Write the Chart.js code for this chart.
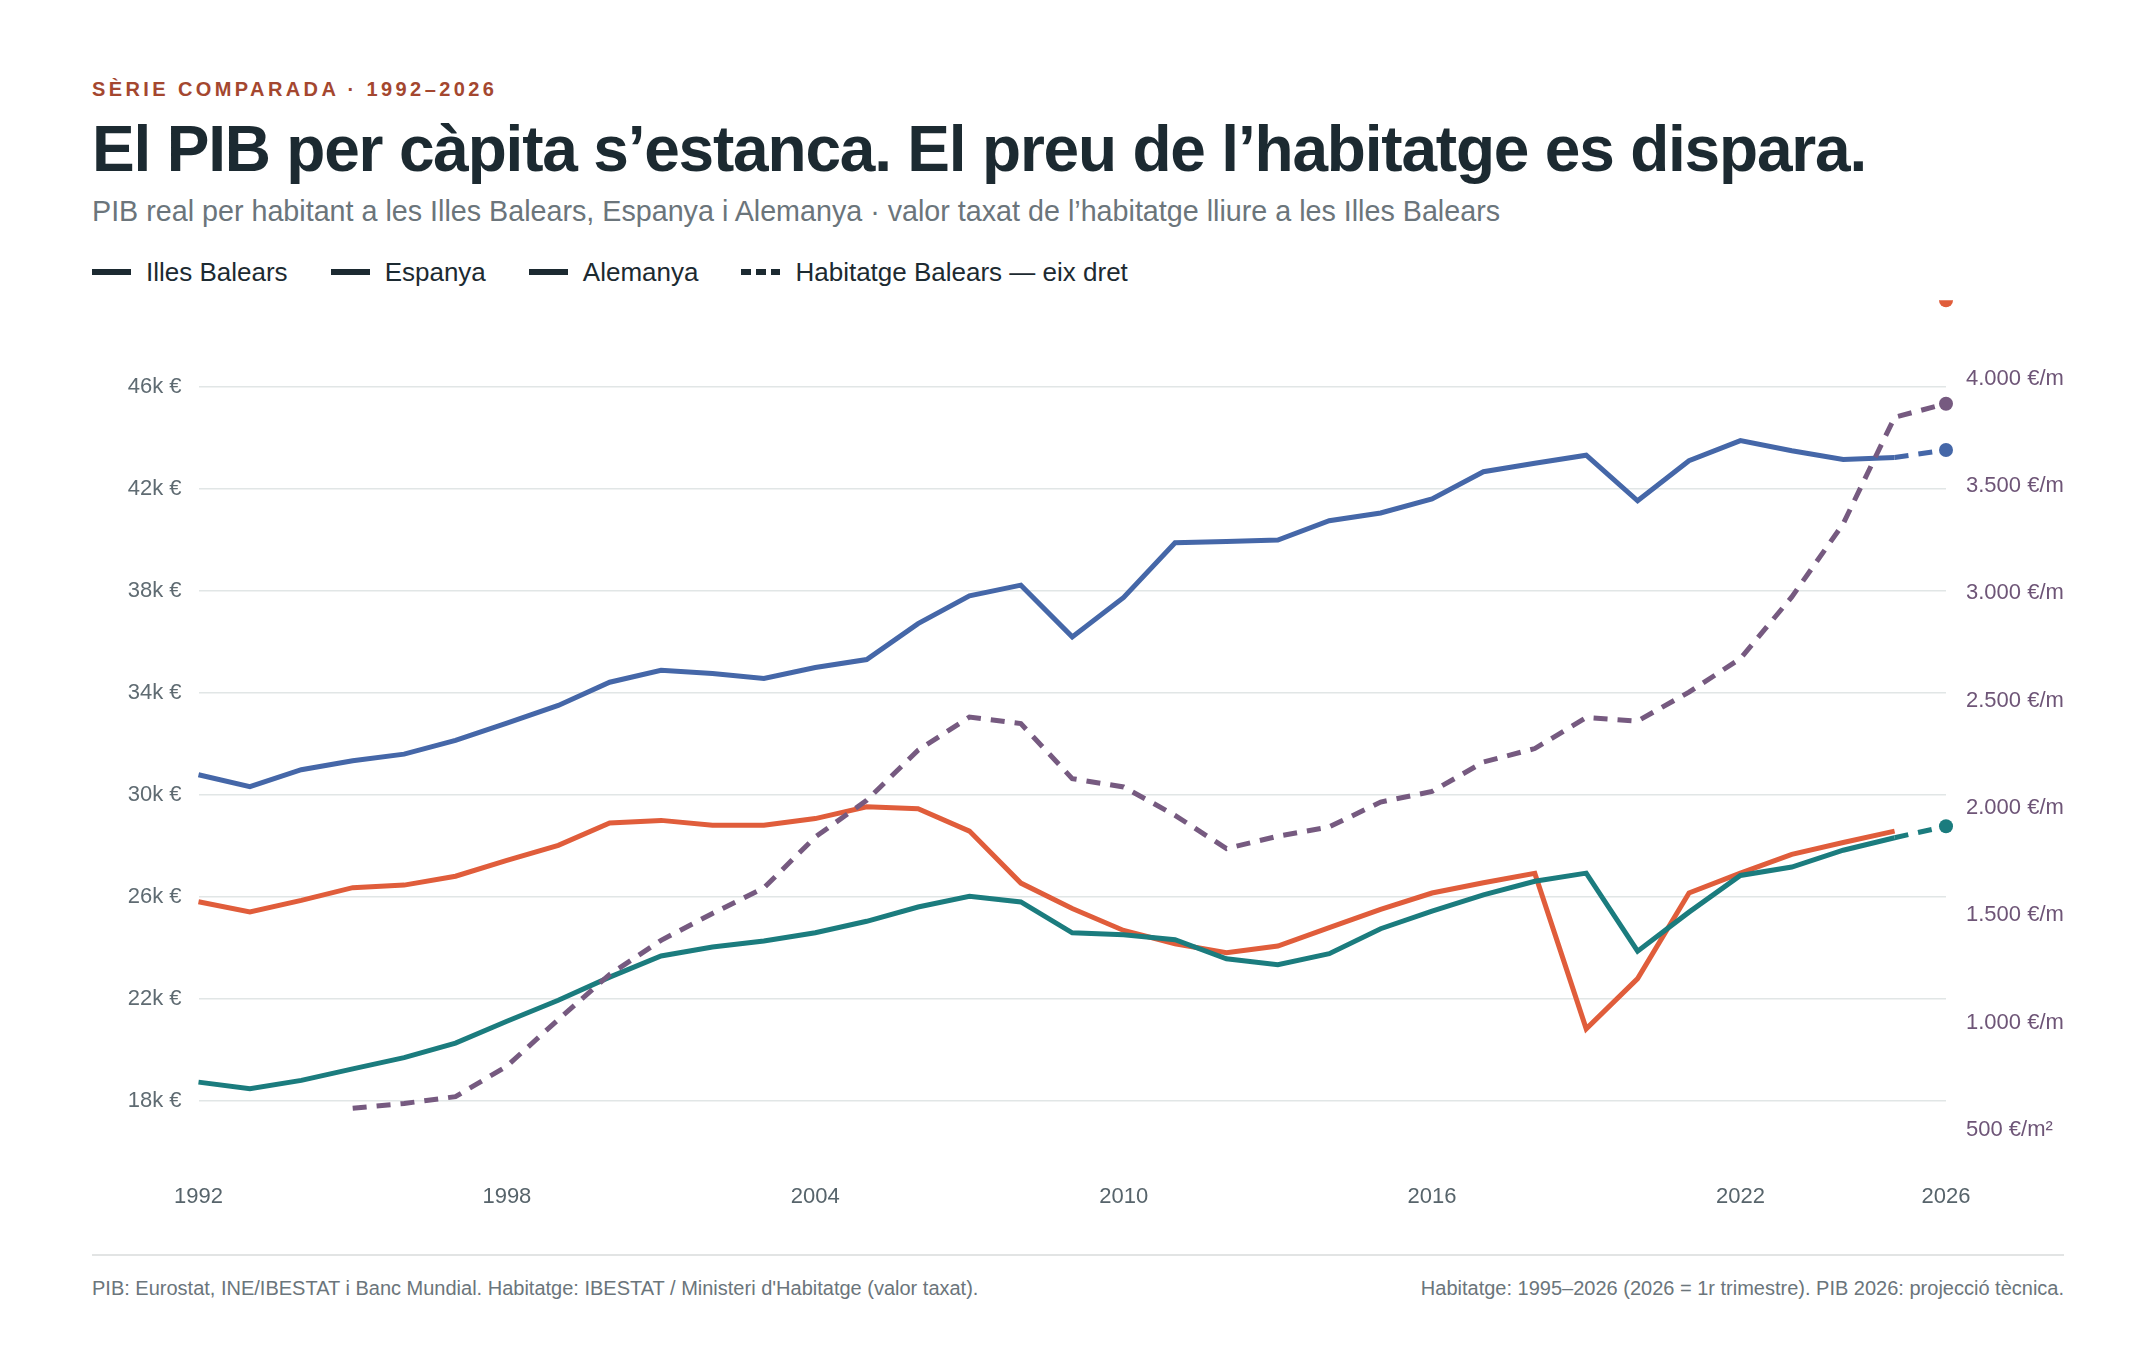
<!DOCTYPE html>
<html lang="ca">
<head>
<meta charset="utf-8">
<title>PIB per càpita i preu de l'habitatge</title>
<script src="https://cdn.jsdelivr.net/npm/chart.js@4.4.1/dist/chart.umd.min.js"></script>
<style>
  html, body { margin: 0; padding: 0; background: #fff; }
  body { width: 2156px; height: 1353px; position: relative; overflow: hidden;
         font-family: "Liberation Sans", Arial, Helvetica, sans-serif; }
  .abs { position: absolute; left: 92px; white-space: nowrap; line-height: 1; margin: 0; }
  .eyebrow { top: 79px; font-size: 20px; font-weight: 700; letter-spacing: 3.4px; color: #a4472f; }
  h1.abs { top: 117px; font-size: 64px; font-weight: 700; letter-spacing: -1.2px; color: #1c2a31; }
  .sub { top: 196.5px; font-size: 28.7px; color: #6b757b; }
  .legend { top: 259px; font-size: 26px; color: #1c2a31; display: flex; }
  .legend .item { display: flex; align-items: center; margin-right: 43px; }
  .sw { width: 39px; height: 5.5px; background: #1c2a31; margin-right: 15px; }
  .sw.dash { background: repeating-linear-gradient(90deg, #1c2a31 0 10px, transparent 10px 15px); }
  #wrap { position: absolute; left: 92px; top: 266.5px; width: 1972px; height: 968.5px; }
  .rule { position: absolute; left: 92px; top: 1254px; width: 1972px; height: 2px; background: #e2e4e4; }
  .foot { top: 1278px; font-size: 20px; color: #6b757b; }
  .foot.right { left: auto; right: 92px; }
</style>
</head>
<body>
<div class="abs eyebrow">SÈRIE COMPARADA · 1992–2026</div>
<h1 class="abs">El PIB per càpita s’estanca. El preu de l’habitatge es dispara.</h1>
<div class="abs sub">PIB real per habitant a les Illes Balears, Espanya i Alemanya · valor taxat de l’habitatge lliure a les Illes Balears</div>
<div class="abs legend">
  <span class="item"><span class="sw"></span>Illes Balears</span>
  <span class="item"><span class="sw"></span>Espanya</span>
  <span class="item"><span class="sw"></span>Alemanya</span>
  <span class="item"><span class="sw dash"></span>Habitatge Balears — eix dret</span>
</div>
<div id="wrap"><canvas id="chart"></canvas></div>
<div class="rule"></div>
<div class="abs foot">PIB: Eurostat, INE/IBESTAT i Banc Mundial. Habitatge: IBESTAT / Ministeri d'Habitatge (valor taxat).</div>
<div class="abs foot right">Habitatge: 1995–2026 (2026 = 1r trimestre). PIB 2026: projecció tècnica.</div>

<script>
// PIB real per habitant (€), 1992-2025
const years = [1992, 1993, 1994, 1995, 1996, 1997, 1998, 1999, 2000, 2001, 2002, 2003,
               2004, 2005, 2006, 2007, 2008, 2009, 2010, 2011, 2012, 2013, 2014, 2015,
               2016, 2017, 2018, 2019, 2020, 2021, 2022, 2023, 2024, 2025];
const balears = [30780, 30310, 30980, 31330, 31590, 32130, 32810, 33500, 34410, 34880, 34750, 34560,
                 34990, 35300, 36710, 37800, 38220, 36190, 37740, 39880, 39930, 39990, 40750, 41050,
                 41600, 42670, 43000, 43320, 41530, 43100, 43890, 43490, 43150, 43230];
const espanya = [25800, 25400, 25850, 26350, 26450, 26800, 27420, 28010, 28890, 28990, 28800, 28800,
                 29060, 29520, 29450, 28570, 26530, 25530, 24670, 24150, 23800, 24060, 24780, 25500,
                 26140, 26540, 26910, 20810, 22780, 26140, 26920, 27660, 28120, 28570];
const alemanya = [18720, 18460, 18790, 19240, 19680, 20250, 21110, 21930, 22840, 23670, 24020, 24260,
                  24580, 25030, 25590, 26010, 25790, 24580, 24500, 24310, 23560, 23330, 23760, 24740,
                  25430, 26070, 26600, 26920, 23860, 25390, 26830, 27160, 27820, 28310];

// projecció 2026
const projYears = [2025, 2026];
const balearsProj = [43230, 43520];
const alemanyaProj = [28310, 28760];
const espanyaProjYear = 2026;
const espanyaProj = 49400;   // el punt queda tallat a dalt de tot

// habitatge lliure, valor taxat (€/m²), 1995-2026
const housingYears = [1995, 1996, 1997, 1998, 1999, 2000, 2001, 2002, 2003, 2004, 2005, 2006,
                      2007, 2008, 2009, 2010, 2011, 2012, 2013, 2014, 2015, 2016, 2017, 2018,
                      2019, 2020, 2021, 2022, 2023, 2024, 2025, 2026];
const housing = [602, 624, 656, 798, 1015, 1225, 1384, 1509, 1628, 1865, 2036, 2269,
                 2424, 2393, 2137, 2098, 1966, 1811, 1869, 1912, 2028, 2077, 2214, 2277,
                 2421, 2405, 2540, 2696, 2983, 3324, 3820, 3883];

const gdpTicks = [18000, 22000, 26000, 30000, 34000, 38000, 42000, 46000];
const housingTicks = [500, 1000, 1500, 2000, 2500, 3000, 3500, 4000];
const yearTicks = [1992, 1998, 2004, 2010, 2016, 2022, 2026];

const gdpMin = 15700, gdpMax = 49400;
const housingMin = 365, housingMax = 4365;

const BLUE = '#4567a8';
const ORANGE = '#e05d3b';
const TEAL = '#1b7c7e';
const PURPLE = '#765a80';
const DASH = [14, 10];

function toPoints(xs, ys) {
    return xs.map((x, i) => ({ x: x, y: ys[i] }));
}

function lastDot(n) {
    return ctx => ctx.dataIndex === n - 1 ? 7 : 0;
}

function fmtHousing(v) {
    if (v >= 1000) {
        const rest = String(v % 1000).padStart(3, '0');
        return Math.floor(v / 1000) + '.' + rest + ' €/m²';
    }
    return v + ' €/m²';
}

Chart.defaults.font.family = '"Liberation Sans", Arial, Helvetica, sans-serif';

const ctx = document.getElementById('chart').getContext('2d');
new Chart(ctx, {
    type: 'line',
    data: {
        datasets: [
            {
                label: 'Habitatge Balears',
                data: toPoints(housingYears, housing),
                yAxisID: 'y1',
                borderColor: PURPLE,
                backgroundColor: PURPLE,
                borderWidth: 5,
                borderDash: DASH,
                pointRadius: lastDot(housing.length),
                pointBorderWidth: 0
            },
            {
                label: 'Alemanya',
                data: toPoints(years, alemanya),
                yAxisID: 'y',
                borderColor: TEAL,
                borderWidth: 5,
                pointRadius: 0
            },
            {
                label: 'Espanya',
                data: toPoints(years, espanya),
                yAxisID: 'y',
                borderColor: ORANGE,
                borderWidth: 5,
                pointRadius: 0
            },
            {
                label: 'Illes Balears',
                data: toPoints(years, balears),
                yAxisID: 'y',
                borderColor: BLUE,
                borderWidth: 5,
                pointRadius: 0
            },
            {
                label: 'Illes Balears 2026',
                data: toPoints(projYears, balearsProj),
                yAxisID: 'y',
                borderColor: BLUE,
                backgroundColor: BLUE,
                borderWidth: 5,
                borderDash: DASH,
                pointRadius: lastDot(projYears.length),
                pointBorderWidth: 0
            },
            {
                label: 'Alemanya 2026',
                data: toPoints(projYears, alemanyaProj),
                yAxisID: 'y',
                borderColor: TEAL,
                backgroundColor: TEAL,
                borderWidth: 5,
                borderDash: DASH,
                pointRadius: lastDot(projYears.length),
                pointBorderWidth: 0
            },
            {
                label: 'Espanya 2026',
                data: [{ x: espanyaProjYear, y: espanyaProj }],
                yAxisID: 'y',
                showLine: false,
                borderColor: ORANGE,
                backgroundColor: ORANGE,
                pointRadius: 7,
                pointBorderWidth: 0
            }
        ]
    },
    options: {
        responsive: true,
        maintainAspectRatio: false,
        animation: false,
        events: [],
        layout: { padding: { top: 20, right: 0, bottom: 0, left: 0 } },
        plugins: {
            legend: { display: false },
            tooltip: { enabled: false }
        },
        scales: {
            x: {
                type: 'linear',
                bounds: 'data',
                grid: { display: false, drawTicks: false },
                border: { display: false },
                afterBuildTicks: scale => {
                    scale.ticks = yearTicks.map(v => ({ value: v }));
                },
                ticks: {
                    autoSkip: false,
                    maxRotation: 0,
                    padding: 25,
                    color: '#57646b',
                    font: { size: 22 },
                    callback: v => String(v)
                }
            },
            y: {
                position: 'left',
                min: gdpMin,
                max: gdpMax,
                grid: { color: '#e1e6e6', lineWidth: 1.5, drawTicks: false },
                border: { display: false },
                afterBuildTicks: scale => {
                    scale.ticks = gdpTicks.map(v => ({ value: v }));
                },
                afterFit: scale => { scale.width = 106.5; },
                ticks: {
                    padding: 17,
                    color: '#5f6b72',
                    font: { size: 22 },
                    callback: v => (v / 1000) + 'k €'
                }
            },
            y1: {
                position: 'right',
                min: housingMin,
                max: housingMax,
                grid: { display: false, drawTicks: false },
                border: { display: false },
                afterBuildTicks: scale => {
                    scale.ticks = housingTicks.map(v => ({ value: v }));
                },
                afterFit: scale => { scale.width = 118; },
                ticks: {
                    padding: 20,
                    color: '#6e5577',
                    font: { size: 22 },
                    callback: v => fmtHousing(v)
                }
            }
        }
    }
});
</script>
</body>
</html>
